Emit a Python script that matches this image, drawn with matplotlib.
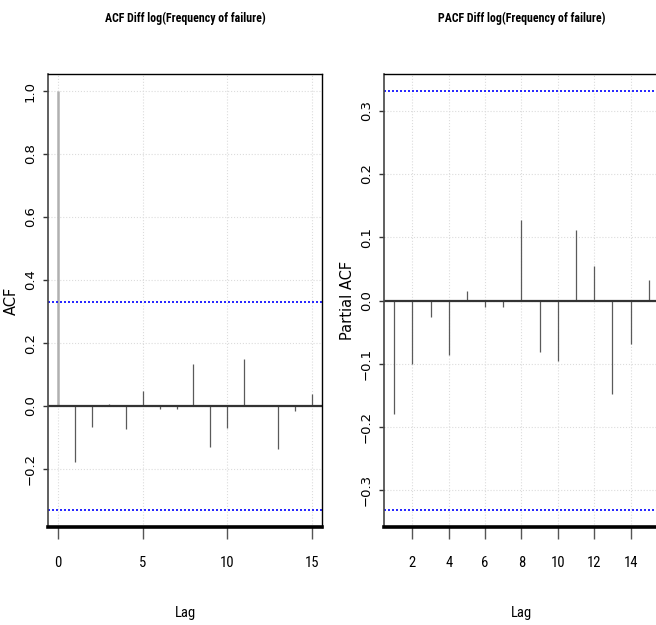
import matplotlib
matplotlib.use('Agg')
import matplotlib.pyplot as plt
from matplotlib import font_manager

# values
acf_lags = list(range(0, 16))
acf_vals = [1.0, -0.179, -0.065, 0.006, -0.072, 0.048, -0.008, -0.011,
            0.132, -0.129, -0.070, 0.149, 0.003, -0.137, -0.017, 0.039]
pacf_lags = list(range(1, 16))
pacf_vals = [-0.180, -0.100, -0.026, -0.086, 0.015, -0.011, -0.011, 0.127,
             -0.082, -0.096, 0.112, 0.054, -0.147, -0.069, 0.033]
conf = 0.331

acf_xticks = [0, 5, 10, 15]
acf_yticks = [-0.2, 0.0, 0.2, 0.4, 0.6, 0.8, 1.0]
pacf_xticks = [2, 4, 6, 8, 10, 12, 14]
pacf_yticks = [-0.3, -0.2, -0.1, 0.0, 0.1, 0.2, 0.3]


# look for a narrow / condensed sans face, the reference text is squeezed
def find_narrow(bold):
    order = ['Liberation Sans Narrow', 'Roboto Condensed', 'DejaVu Sans',
             'Noto Sans', 'Open Sans', 'Lato']
    found = {}
    for f in font_manager.fontManager.ttflist:
        narrowish = ('Narrow' in f.name or 'Condensed' in f.name
                     or f.stretch in ('condensed', 'semi-condensed',
                                      'extra-condensed', 'ultra-condensed'))
        if not narrowish or f.style != 'normal':
            continue
        w = f.weight if isinstance(f.weight, int) else {'bold': 700}.get(f.weight, 400)
        if (w >= 700) != bold:
            continue
        found.setdefault(f.name, f.fname)
    for n in order:
        if n in found:
            return font_manager.FontProperties(fname=found[n])
    if found:
        return font_manager.FontProperties(fname=list(found.values())[0])
    return font_manager.FontProperties(family='Liberation Sans',
                                       weight='bold' if bold else 'normal')


fp_reg = find_narrow(False)
fp_bold = find_narrow(True)

fig = plt.figure(figsize=(6.56, 6.25), dpi=100)
ax1 = fig.add_axes([48 / 656, 98 / 625, 274 / 656, 453 / 625])
ax2 = fig.add_axes([384 / 656, 98 / 625, 275 / 656, 453 / 625])
titles = []


def draw(ax, lags, vals, title, ylabel, xticks, yticks, xlim, ylim, first_light):
    ax.set_xlim(*xlim)
    ax.set_ylim(*ylim)
    ax.set_xticks(xticks)
    ax.set_yticks(yticks)
    ax.grid(True, ls=':', color='#dcdcdc', lw=0.8)
    ax.set_axisbelow(True)
    cols = ['#5a5a5a'] * len(lags)
    lws = [0.9] * len(lags)
    if first_light:
        cols[0] = '#b0b0b0'
        lws[0] = 1.8
    ax.vlines(lags, 0, vals, colors=cols, linewidths=lws)
    ax.axhline(0, color='#333333', lw=1.6)
    ax.axhline(conf, color='#0000ff', ls=(0, (1.2, 1.2)), lw=1.2)
    ax.axhline(-conf, color='#0000ff', ls=(0, (1.2, 1.2)), lw=1.2)

    ax.spines['bottom'].set_linewidth(2.6)
    ax.spines['bottom'].set_color('black')
    ax.spines['top'].set_linewidth(1.0)
    ax.spines['right'].set_linewidth(1.0)
    ax.spines['left'].set_linewidth(1.2)
    ax.spines['left'].set_color('#444444')

    ax.tick_params(axis='x', length=8.6, width=1, color='#555555', pad=12.5)
    ax.tick_params(axis='y', length=3.6, width=1, color='#333333', pad=4.5,
                   labelrotation=90)
    for lab in ax.get_xticklabels():
        lab.set_fontproperties(fp_reg)
        lab.set_fontsize(10.5)
    for lab in ax.get_yticklabels():
        lab.set_fontfamily('DejaVu Sans')
        lab.set_fontsize(9.5)
        lab.set_va('center')

    ax.set_xlabel('Lag', fontproperties=fp_reg, fontsize=10.5)
    ax.xaxis.set_label_coords(0.5, -0.175)
    ax.set_ylabel(ylabel, fontfamily='DejaVu Sans', fontsize=10.5)
    ax.yaxis.set_label_coords(-0.106, 0.5)

    pos = ax.get_position()
    t = fig.text((pos.x0 + pos.x1) / 2, 1 - 18 / 625, title, ha='center', va='center',
                 fontproperties=fp_bold, fontsize=10)
    titles.append(t)


draw(ax1, acf_lags, acf_vals, 'ACF Diff log(Frequency of failure)', 'ACF',
     acf_xticks, acf_yticks, (-0.6, 15.6), (-0.384, 1.054), True)
draw(ax2, pacf_lags, pacf_vals, 'PACF Diff log(Frequency of failure)', 'Partial ACF',
     pacf_xticks, pacf_yticks, (0.44, 15.56), (-0.358, 0.358), False)

# size the titles to about the width they have in the reference
fig.canvas.draw()
for t, target in zip(titles, [160, 167]):
    w = t.get_window_extent().width
    t.set_fontsize(t.get_fontsize() * target / w)

fig.savefig('out.png', dpi=100)
